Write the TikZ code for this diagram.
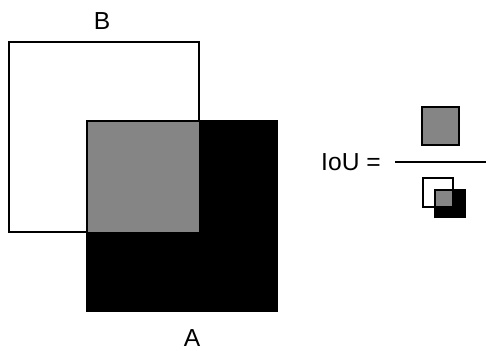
\documentclass[tikz,border=0pt]{standalone}
\usepackage{fontspec}
\setmainfont{Liberation Sans}
\usepackage{tikz}
\usetikzlibrary{positioning}

\begin{document}
\begin{tikzpicture}[x=0.03cm,y=-0.03cm,font=\fontsize{21}{24}\selectfont,line join=miter,
  boxline/.style={draw=black,line width=2.2pt},
  smallline/.style={draw=black,line width=1.6pt}]
\useasboundingbox (0,0) rectangle (486,350);
% large boxes
\fill[black] (87,121) rectangle (278,312);
\draw[boxline] (9,42) rectangle (199,232);
\fill[black!48] (87,121) rectangle (199,232);
\draw[black,line width=1.6pt] (87,312) -- (87,121) -- (278,121);
\node[inner sep=0.5pt] (labelB) at (102,21.5) {B};
\node[inner sep=0.5pt] (labelA) at (192,338) {A};
% fraction
\node[anchor=west,inner sep=0pt] (iou) at (321,162) {IoU =};
\coordinate (barleft) at (395,162);
\coordinate (barright) at (486,162);
\draw[line width=1.6pt] (barleft) -- (barright);
% numerator
\draw[smallline,fill=black!48] (422,107) rectangle (459,145);
% denominator
\fill[black] (434,189) rectangle (466,218);
\draw[smallline] (423,178) rectangle (453,207);
\fill[black!48] (435.5,190.5) rectangle (452,206);
\draw[black,line width=1pt] (434.5,218) -- (434.5,189.5) -- (466,189.5);
\end{tikzpicture}
\end{document}
